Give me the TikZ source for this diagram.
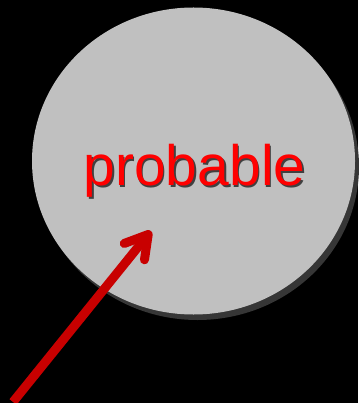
\documentclass[tikz,border=0pt]{standalone}
\usepackage{fontspec}
\setmainfont{Liberation Sans}
\usetikzlibrary{arrows.meta}
\usetikzlibrary{positioning}
\usetikzlibrary{shapes.geometric}
\definecolor{blobgray}{HTML}{C0C0C0}
\definecolor{blobshade}{HTML}{363636}
\definecolor{arrowred}{HTML}{C80000}
\definecolor{wordshade}{HTML}{404040}
\newcommand{\shadedword}[1]{%
  \makebox[0pt][l]{\hspace{1.5pt}\raisebox{-2.5pt}{\textcolor{wordshade}{#1}}}%
  \textcolor{red}{#1}}
\tikzset{
  blob/.style = {ellipse, fill=blobgray, inner sep=0pt, minimum width=323pt, minimum height=307pt},
  blob_shade/.style = {ellipse, fill=blobshade, inner sep=0pt, minimum width=323pt, minimum height=307pt},
  word/.style = {font=\fontsize{57}{60}\selectfont, inner sep=0pt},
  pointer/.style = {draw=arrowred, line width=9pt, line cap=butt,
    -{Straight Barb[length=22pt, width=26pt, line cap=round, line join=round]}}
}

\begin{document}
\begin{tikzpicture}[x=1pt,y=-1pt]
  \fill[black] (0,0) rectangle (358,403);
  \useasboundingbox (0,0) rectangle (358,403);

  \node [blob_shade] (shade) at (197.5,166.5) {};
  \node [blob] (blob) at (193.5,161) {};

  \node [word, anchor=base] (word) at (194.5,185) {\shadedword{probable}};

  \coordinate (tail) at (13,402);
  \coordinate (tip) at (151,231);
  \draw [pointer] (tail) -- (tip);
\end{tikzpicture}
\end{document}
